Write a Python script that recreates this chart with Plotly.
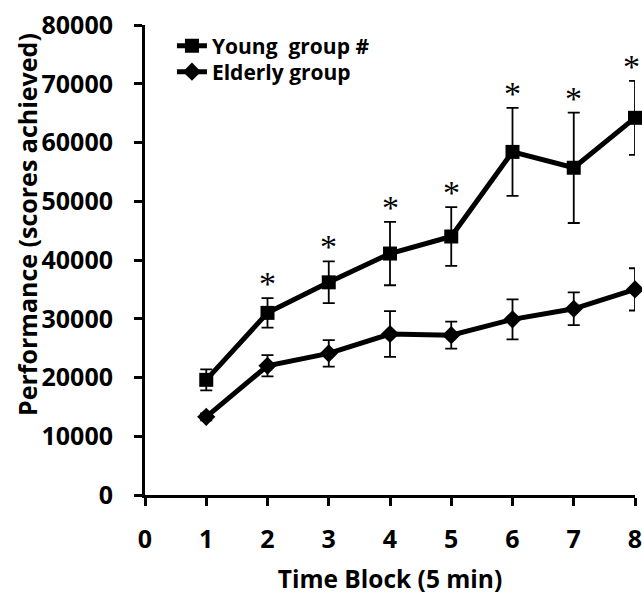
import plotly.graph_objects as go

time_block = [1, 2, 3, 4, 5, 6, 7, 8]
young_mean = [19600, 31000, 36200, 41100, 44000, 58400, 55700, 64200]
young_err = [1800, 2500, 3550, 5400, 5000, 7500, 9400, 6300]
elderly_mean = [13300, 22000, 24100, 27400, 27200, 29900, 31700, 35000]
elderly_err = [600, 1800, 2250, 3900, 2300, 3400, 2800, 3600]
sig_marks = ["", "*", "*", "*", "*", "*", "*", "*"]
x_ticks = [0, 1, 2, 3, 4, 5, 6, 7, 8]
y_ticks = [0, 10000, 20000, 30000, 40000, 50000, 60000, 70000, 80000]

FONT = "Open Sans"
leg_font = dict(family=FONT, size=21, color="black", weight="bold")

fig = go.Figure()
fig.add_trace(go.Scatter(
    x=time_block, y=young_mean, name="Young  group #", mode="lines+markers",
    line=dict(color="black", width=5),
    marker=dict(symbol="square", size=14, color="black"),
    error_y=dict(type="data", array=young_err, visible=True, color="black", thickness=1.8, width=6),
    cliponaxis=False, legend="legend",
))
fig.add_trace(go.Scatter(
    x=time_block, y=elderly_mean, name="Elderly group", mode="lines+markers",
    line=dict(color="black", width=5),
    marker=dict(symbol="diamond", size=14, color="black"),
    error_y=dict(type="data", array=elderly_err, visible=True, color="black", thickness=1.8, width=6),
    cliponaxis=False, legend="legend2",
))

for xv, m, e, s in zip(time_block, young_mean, young_err, sig_marks):
    if s:
        fig.add_annotation(x=xv, y=m + e, text=s, showarrow=False, yanchor="bottom",
                           xshift=(-4 if xv == 8 else 0),
                           yshift=-6, font=dict(family="Liberation Serif", size=34, color="black"))

fig.add_annotation(
    text="Performance (scores achieved)", xref="paper", yref="paper",
    x=-0.2408, y=0.5745, xanchor="center", yanchor="middle", textangle=-90,
    showarrow=False, font=dict(family=FONT, size=25, color="black", weight="bold"),
)

fig.update_layout(
    width=642, height=595,
    margin=dict(l=145, r=7, t=25, b=100, autoexpand=False),
    plot_bgcolor="white", paper_bgcolor="white",
    showlegend=True,
    legend=dict(x=0.055, y=0.9553, xanchor="left", yanchor="middle", bgcolor="rgba(0,0,0,0)",
                font=leg_font, itemwidth=30),
    legend2=dict(x=0.055, y=0.90, xanchor="left", yanchor="middle", bgcolor="rgba(0,0,0,0)",
                 font=leg_font, itemwidth=30),
    font=dict(family=FONT, color="black"),
)
fig.update_xaxes(
    range=[0, 8], tickvals=x_ticks, ticktext=[str(v) for v in x_ticks],
    showline=True, linecolor="black", linewidth=3, ticks="outside", ticklen=8, tickwidth=3,
    tickcolor="black", showgrid=False, zeroline=False, ticklabelstandoff=12,
    ticklabeloverflow="allow",
    tickfont=dict(family=FONT, size=25, color="black", weight="bold"),
    title=dict(text="Time Block (5 min)", font=dict(family=FONT, size=24.5, color="black", weight="bold"), standoff=18),
)
fig.update_yaxes(
    range=[0, 80000], tickvals=y_ticks, ticktext=[str(v) for v in y_ticks],
    showline=True, linecolor="black", linewidth=3, ticks="outside", ticklen=8, tickwidth=3,
    tickcolor="black", showgrid=False, zeroline=False, ticklabelstandoff=16,
    ticklabeloverflow="allow",
    tickfont=dict(family=FONT, size=25, color="black", weight="bold"),
)

fig.write_html(
    "out.html",
    config={"displayModeBar": False},
    post_script="document.body.style.margin='0';document.documentElement.style.overflow='hidden';",
)
